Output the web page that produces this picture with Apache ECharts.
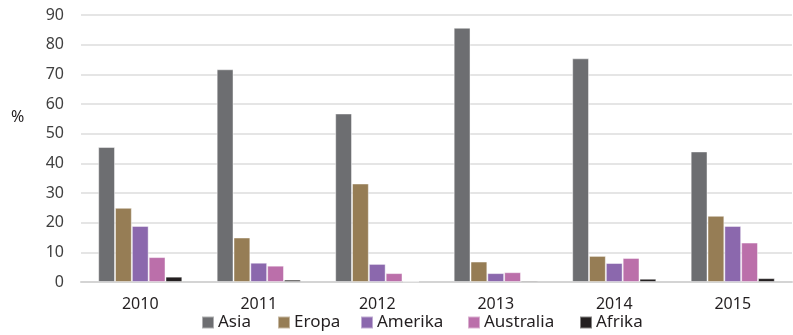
<!DOCTYPE html>
<html><head><meta charset="utf-8">
<script src="https://cdn.jsdelivr.net/npm/echarts@6/dist/echarts.min.js"></script>
<style>html,body{margin:0;padding:0;background:#fff}#c{width:793px;height:335px}</style>
</head><body><div id="c"></div>
<script>
const categories = ['2010','2011','2012','2013','2014','2015'];
const seriesNames = ['Asia','Eropa','Amerika','Australia','Afrika'];
const asia = [45.5, 71.7, 56.8, 85.7, 75.4, 44.0];
const eropa = [25.0, 15.0, 33.2, 6.9, 8.8, 22.3];
const amerika = [18.9, 6.5, 6.1, 3.0, 6.4, 18.9];
const australia = [8.4, 5.5, 3.0, 3.3, 8.1, 13.3];
const afrika = [1.8, 0.8, 0.2, 0.5, 1.1, 1.3];
const yTicks = [0,10,20,30,40,50,60,70,80,90];
const colors = ['#6d6e71','#967d55','#8b68ad','#bb6faa','#231f20'];
const values = [asia, eropa, amerika, australia, afrika];
const legendLeft = [201, 277, 360, 467, 579];
const font = 'Noto Sans';
const chart = echarts.init(document.getElementById('c'));
chart.setOption({
  animation: false,
  textStyle: {fontFamily: font},
  grid: {left: 81, right: 1, top: 15, bottom: 53},
  legend: seriesNames.map((n, i) => ({
    left: legendLeft[i], top: 314, itemWidth: 12, itemHeight: 12, itemGap: 0, padding: 0,
    icon: 'rect',
    textStyle: {fontFamily: font, fontSize: 17, color: '#231f20', padding: [0,0,0,-1]},
    data: [n]
  })),
  xAxis: {
    type: 'category', data: categories,
    axisLine: {lineStyle: {color: '#d4d4d4', width: 2}},
    axisTick: {show: false},
    axisLabel: {fontSize: 16, color: '#231f20', margin: 14, fontFamily: font}
  },
  yAxis: {
    type: 'value', min: yTicks[0], max: yTicks[yTicks.length-1], interval: 10,
    axisLine: {show: false}, axisTick: {show: false},
    splitLine: {lineStyle: {color: '#dcdcdc', width: 1.5}},
    axisLabel: {fontSize: 16, color: '#404040', margin: 17, fontFamily: font}
  },
  graphic: [{type: 'text', left: 11, top: 109, style: {text: '%', fontSize: 16, fill: '#231f20', fontFamily: font}}],
  series: seriesNames.map((n, i) => ({
    name: n, type: 'bar', data: values[i],
    barGap: '0%', barCategoryGap: '29%',
    itemStyle: {color: colors[i], borderColor: 'rgba(255,255,255,0.45)', borderWidth: 1}
  }))
});
</script></body></html>
